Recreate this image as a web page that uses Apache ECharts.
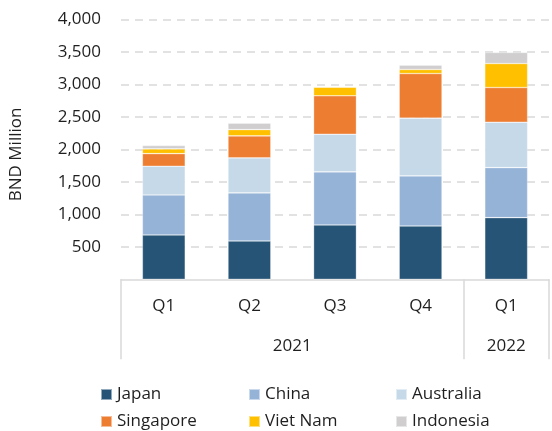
<!DOCTYPE html>
<html>
<head>
<meta charset="utf-8">
<script src="https://cdn.jsdelivr.net/npm/echarts@6/dist/echarts.min.js"></script>
<style>
  html, body { margin: 0; padding: 0; background: #fff; }
  #chart { width: 552px; height: 431px; }
</style>
</head>
<body>
<div id="chart"></div>
<script>
// Quarterly values in BND million, by country
const quarters = ['Q1', 'Q2', 'Q3', 'Q4', 'Q1'];
const years = ['2021', '2022'];
const japan     = [683, 590, 837, 821, 949];
const china     = [616, 740, 817, 771, 771];
const australia = [442, 539, 580, 889, 699];
const singapore = [194, 339, 591, 687, 534];
const vietNam   = [73, 97, 134, 62, 369];
const indonesia = [51, 99, 5, 68, 170];
const yTicks = [0, 500, 1000, 1500, 2000, 2500, 3000, 3500, 4000];

const FONT = '"Open Sans", "Noto Sans", sans-serif';
const FS = 17;
const TXT = '#1f1f1f';
const LINE = '#d9d9d9';

const seriesDefs = [
  { name: 'Japan', data: japan, color: '#255476' },
  { name: 'China', data: china, color: '#95b3d7' },
  { name: 'Australia', data: australia, color: '#c5d9e9' },
  { name: 'Singapore', data: singapore, color: '#ed7d31' },
  { name: 'Viet Nam', data: vietNam, color: '#ffc000' },
  { name: 'Indonesia', data: indonesia, color: '#d0cece' }
];

const fmt = v => String(v).replace(/\B(?=(\d{3})+(?!\d))/g, ',');

function legendColumn(names, left) {
  return {
    orient: 'vertical',
    left: left,
    top: 386,
    data: names,
    icon: 'rect',
    itemWidth: 11,
    itemHeight: 11,
    itemGap: 10,
    padding: 0,
    textStyle: { fontFamily: FONT, fontSize: FS, color: TXT },
    selectedMode: false
  };
}

const chart = echarts.init(document.getElementById('chart'), null, { renderer: 'canvas' });
chart.setOption({
  animation: false,
  backgroundColor: '#fff',
  grid: { left: 120.5, right: -3.5, top: 19.5, bottom: 151.7, containLabel: false },
  legend: [
    legendColumn(['Japan', 'Singapore'], 100),
    legendColumn(['China', 'Viet Nam'], 248),
    legendColumn(['Australia', 'Indonesia'], 395)
  ],
  xAxis: [
    {
      type: 'category',
      data: quarters,
      boundaryGap: true,
      axisLine: { show: true, lineStyle: { color: LINE, width: 1.5 } },
      axisTick: {
        show: true,
        length: 80,
        interval: (i) => i === 0 || i === 4,
        lineStyle: { color: LINE, width: 1.5 }
      },
      axisLabel: {
        interval: 0, margin: 18,
        fontFamily: FONT, fontSize: FS, color: TXT
      },
      splitLine: { show: false }
    },
    {
      // year row beneath the quarters: centred under each year's quarters
      type: 'value',
      position: 'bottom',
      min: 0, max: 5, interval: 0.5,
      axisLine: { show: false },
      axisTick: { show: false },
      splitLine: { show: false },
      axisLabel: {
        margin: 58,
        showMinLabel: true, showMaxLabel: true,
        fontFamily: FONT, fontSize: FS, color: TXT,
        formatter: v => (v === 2 ? years[0] : v === 4.5 ? years[1] : '')
      }
    }
  ],
  yAxis: {
    type: 'value',
    min: yTicks[0], max: yTicks[yTicks.length - 1], interval: 500,
    name: 'BND Million',
    nameLocation: 'middle',
    nameGap: 96,
    nameRotate: 90,
    nameTextStyle: { fontFamily: FONT, fontSize: FS, color: TXT, padding: [0, 0, 0, -10] },
    axisLine: { show: false },
    axisTick: { show: false },
    axisLabel: {
      margin: 20,
      fontFamily: FONT, fontSize: FS, color: TXT,
      formatter: v => (v === 0 ? '' : fmt(v))
    },
    splitLine: {
      show: true,
      showMinLine: false,
      lineStyle: { color: LINE, width: 1.5, type: [8, 6] }
    }
  },
  series: seriesDefs.map(s => ({
    name: s.name,
    type: 'bar',
    stack: 'total',
    xAxisIndex: 0,
    barCategoryGap: '50%',
    data: s.data,
    itemStyle: { color: s.color, borderColor: 'rgba(255,255,255,0.5)', borderWidth: 0.6 },
    emphasis: { disabled: true }
  }))
});
</script>
</body>
</html>
